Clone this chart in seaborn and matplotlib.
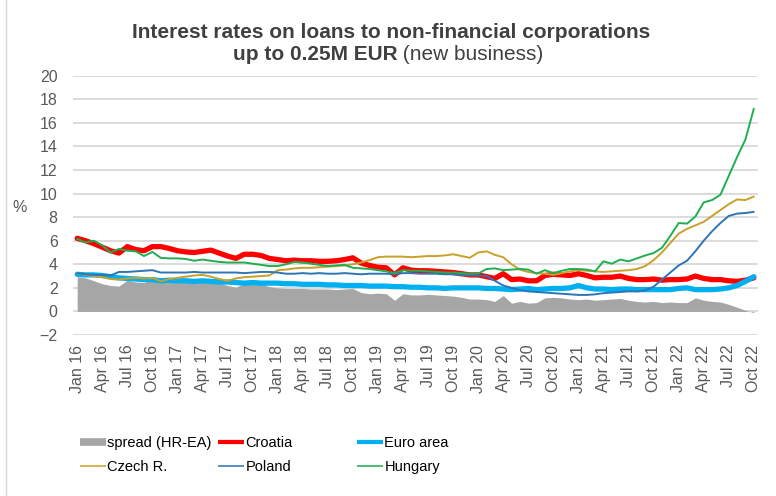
import matplotlib
matplotlib.use("Agg")
import matplotlib.pyplot as plt
from matplotlib.lines import Line2D
from matplotlib import font_manager
import numpy as np
import pandas as pd
import seaborn as sns

# Monthly observations, Jan 2016 - Oct 2022 (% p.a.)
months = pd.date_range("2016-01-01", "2022-10-01", freq="MS")

croatia = [
    6.2, 6.0, 5.75, 5.45, 5.15, 4.95, 5.5, 5.25, 5.15, 5.5, 5.5, 5.35,
    5.15, 5.05, 5.0, 5.1, 5.2, 4.95, 4.7, 4.5, 4.85, 4.85, 4.75, 4.5,
    4.4, 4.3, 4.35, 4.3, 4.3, 4.25, 4.25, 4.3, 4.4, 4.55, 4.1, 3.9,
    3.75, 3.7, 3.1, 3.7, 3.5, 3.45, 3.45, 3.4, 3.35, 3.3, 3.2, 3.1,
    3.1, 2.95, 2.8, 3.2, 2.7, 2.75, 2.6, 2.6, 3.05, 3.15, 3.1, 3.05,
    3.2, 3.05, 2.85, 2.9, 2.9, 3.0, 2.8, 2.7, 2.7, 2.75, 2.65, 2.7,
    2.7, 2.75, 3.0, 2.8, 2.7, 2.7, 2.6, 2.55, 2.65, 2.85,
]
euro_area = [
    3.15, 3.1, 3.1, 3.05, 2.95, 2.85, 2.8, 2.75, 2.7, 2.7, 2.6, 2.65,
    2.6, 2.6, 2.55, 2.6, 2.55, 2.5, 2.5, 2.45, 2.4, 2.45, 2.4, 2.4,
    2.4, 2.35, 2.35, 2.3, 2.3, 2.3, 2.25, 2.25, 2.2, 2.2, 2.2, 2.15,
    2.15, 2.15, 2.1, 2.1, 2.05, 2.05, 2.0, 2.0, 1.95, 2.0, 2.0, 2.0,
    2.0, 1.95, 1.95, 1.9, 1.85, 1.9, 1.95, 1.85, 1.9, 1.95, 1.95, 2.0,
    2.2, 2.0, 1.9, 1.9, 1.85, 1.9, 1.9, 1.85, 1.85, 1.85, 1.85, 1.85,
    1.95, 2.0, 1.85, 1.85, 1.85, 1.9, 2.0, 2.2, 2.55, 2.95,
]
spread = [
    2.95, 2.85, 2.6, 2.35, 2.2, 2.15, 2.65, 2.5, 2.45, 2.75, 2.85, 2.7,
    2.55, 2.45, 2.45, 2.5, 2.6, 2.45, 2.2, 2.05, 2.4, 2.4, 2.35, 2.1,
    2.0, 1.95, 1.95, 1.95, 1.9, 1.9, 1.9, 1.85, 1.9, 1.95, 1.6, 1.5,
    1.55, 1.5, 0.95, 1.5, 1.4, 1.4, 1.45, 1.4, 1.35, 1.3, 1.2, 1.05,
    1.05, 1.0, 0.85, 1.35, 0.7, 0.85, 0.7, 0.75, 1.15, 1.2, 1.15, 1.05,
    1.0, 1.05, 0.95, 1.0, 1.05, 1.1, 0.95, 0.85, 0.8, 0.85, 0.75, 0.8,
    0.75, 0.75, 1.15, 0.95, 0.85, 0.8, 0.6, 0.35, 0.1, -0.1,
]
czech = [
    3.25, 3.1, 3.0, 2.9, 2.75, 2.7, 2.8, 2.85, 2.8, 2.85, 2.55, 2.75,
    2.85, 2.95, 3.05, 3.1, 2.95, 2.75, 2.6, 2.8, 2.9, 2.95, 3.0, 3.05,
    3.5, 3.55, 3.65, 3.7, 3.7, 3.75, 3.8, 3.85, 3.9, 4.0, 4.15, 4.35,
    4.6, 4.65, 4.65, 4.65, 4.6, 4.65, 4.7, 4.7, 4.75, 4.85, 4.7, 4.55,
    5.0, 5.1, 4.8, 4.6, 4.0, 3.55, 3.35, 3.25, 3.2, 3.1, 3.25, 3.4,
    3.5, 3.45, 3.4, 3.35, 3.4, 3.45, 3.5, 3.6, 3.85, 4.35, 5.0, 5.8,
    6.6, 7.0, 7.3, 7.6, 8.1, 8.6, 9.1, 9.5, 9.45, 9.75,
]
poland = [
    3.25, 3.15, 3.1, 3.1, 3.05, 3.35, 3.35, 3.4, 3.45, 3.5, 3.3, 3.3,
    3.3, 3.3, 3.35, 3.3, 3.3, 3.3, 3.3, 3.3, 3.25, 3.3, 3.35, 3.35,
    3.3, 3.2, 3.2, 3.25, 3.2, 3.25, 3.2, 3.2, 3.25, 3.2, 3.15, 3.2,
    3.2, 3.2, 3.15, 3.25, 3.25, 3.2, 3.2, 3.2, 3.15, 3.15, 3.1, 3.05,
    3.05, 3.0, 2.6, 2.2, 2.0, 1.8, 1.7, 1.65, 1.6, 1.55, 1.5, 1.45,
    1.4, 1.4, 1.45, 1.55, 1.6, 1.65, 1.7, 1.7, 1.8, 2.1, 2.7, 3.3,
    3.9, 4.3, 5.1, 6.0, 6.8, 7.5, 8.1, 8.3, 8.35, 8.45,
]
hungary = [
    6.15, 5.85, 6.0, 5.6, 5.0, 5.3, 5.15, 5.1, 4.7, 5.05, 4.55, 4.5,
    4.5, 4.45, 4.3, 4.4, 4.3, 4.2, 4.15, 4.15, 4.15, 4.05, 3.95, 3.85,
    3.85, 4.0, 4.2, 4.15, 4.05, 3.95, 3.85, 3.9, 3.95, 3.7, 3.65, 3.6,
    3.5, 3.4, 3.25, 3.5, 3.45, 3.45, 3.4, 3.35, 3.3, 3.3, 3.25, 3.2,
    3.2, 3.6, 3.65, 3.5, 3.55, 3.6, 3.55, 3.2, 3.5, 3.25, 3.45, 3.6,
    3.6, 3.55, 3.4, 4.25, 4.05, 4.4, 4.25, 4.5, 4.75, 4.95, 5.4, 6.4,
    7.5, 7.45, 8.05, 9.25, 9.45, 9.9, 11.5, 13.1, 14.6, 17.2,
]

series_names = ["Croatia", "Euro area", "Czech R.", "Poland", "Hungary"]
series_values = [croatia, euro_area, czech, poland, hungary]
colors = {
    "spread (HR-EA)": "#a6a6a6",
    "Croatia": "#ff0000",
    "Euro area": "#00b0f0",
    "Czech R.": "#c9a02a",
    "Poland": "#2e75b6",
    "Hungary": "#1fae50",
}
widths = {"Croatia": 3.8, "Euro area": 3.8, "Czech R.": 1.4, "Poland": 1.4, "Hungary": 1.4}

pos = np.arange(len(months))
long_df = pd.DataFrame(
    {
        "pos": np.tile(pos, len(series_names)),
        "value": np.concatenate(series_values),
        "series": np.repeat(series_names, len(months)),
    }
)
tick_pos = pos[::3]
tick_labels = [m.strftime("%b %y") for m in months[::3]]

sns.set_style("white")
plt.rcParams["font.family"] = ["Liberation Sans", "DejaVu Sans"]

installed = {f.name for f in font_manager.fontManager.ttflist}
legend_family = "Liberation Sans Narrow" if "Liberation Sans Narrow" in installed else "Liberation Sans"
legend_size = 11.5 if legend_family == "Liberation Sans Narrow" else 10.5

W, H = 776, 496
fig = plt.figure(figsize=(W / 100, H / 100), dpi=100)
ax = fig.add_axes([73 / W, 1 - 335 / H, (758 - 73) / W, (335 - 75.7) / H])

ax.fill_between(pos, 0, spread, color=colors["spread (HR-EA)"], lw=0, zorder=1)
for name in series_names:
    sns.lineplot(
        data=long_df[long_df["series"] == name],
        x="pos", y="value", ax=ax,
        color=colors[name], lw=widths[name], legend=False, zorder=2,
    )

ax.set_xlim(-0.5, len(months) - 0.5)
ax.set_ylim(-2, 20)
ax.set_yticks(np.arange(-2, 21, 2))
ax.set_xticks(tick_pos)
ax.set_xticklabels(tick_labels, rotation=90)
ax.set_xlabel("")
ax.set_ylabel("")
ax.yaxis.grid(True, color="#d9d9d9", lw=1.3)
ax.xaxis.grid(False)
ax.set_axisbelow(True)
for s in ax.spines.values():
    s.set_visible(False)
ax.tick_params(axis="both", length=0, colors="#595959", labelsize=11.5)
ax.tick_params(axis="y", pad=11)
ax.tick_params(axis="x", pad=7)

fig.text(20 / W, 1 - 207 / H, "%", ha="center", va="center", fontsize=11.5, color="#595959")

# Chart frame edge on the left
fig.add_artist(Line2D([6 / W, 6 / W], [0, 1], color="#d9d9d9", lw=1.0))

# Title
title_color = "#404040"
fig.text(391 / W, 1 - 32 / H, "Interest rates on loans to non-financial corporations",
         ha="center", va="center", fontsize=15, weight="bold", color=title_color)
t_bold = fig.text(0, 1 - 55 / H, "up to 0.25M EUR", ha="left", va="center",
                  fontsize=15, weight="bold", color=title_color)
t_norm = fig.text(0, 1 - 55 / H, " (new business)", ha="left", va="center",
                  fontsize=15, color=title_color)
renderer = fig.canvas.get_renderer()
w1 = t_bold.get_window_extent(renderer).width
w2 = t_norm.get_window_extent(renderer).width
x0 = 388 - (w1 + w2) / 2
t_bold.set_x(x0 / W)
t_norm.set_x((x0 + w1) / W)

# Legend: three columns, two rows
def handle(name):
    if name == "spread (HR-EA)":
        return Line2D([], [], color=colors[name], lw=5.5, solid_capstyle="butt")
    return Line2D([], [], color=colors[name], lw=widths[name] * 0.8, solid_capstyle="butt")

columns = [("spread (HR-EA)", "Czech R."), ("Croatia", "Poland"), ("Euro area", "Hungary")]
col_x = [80, 218, 357]
for names, cx in zip(columns, col_x):
    leg = fig.legend(
        [handle(n) for n in names], list(names),
        loc="center left", bbox_to_anchor=(cx / W, 1 - 455 / H),
        frameon=False, prop={"family": legend_family, "size": legend_size},
        handlelength=26 / (legend_size * 100 / 72), handletextpad=0.1,
        labelspacing=0.65, borderpad=0, borderaxespad=0,
    )
    for t in leg.get_texts():
        t.set_color("#000000")

fig.savefig("out.png", dpi=100)
